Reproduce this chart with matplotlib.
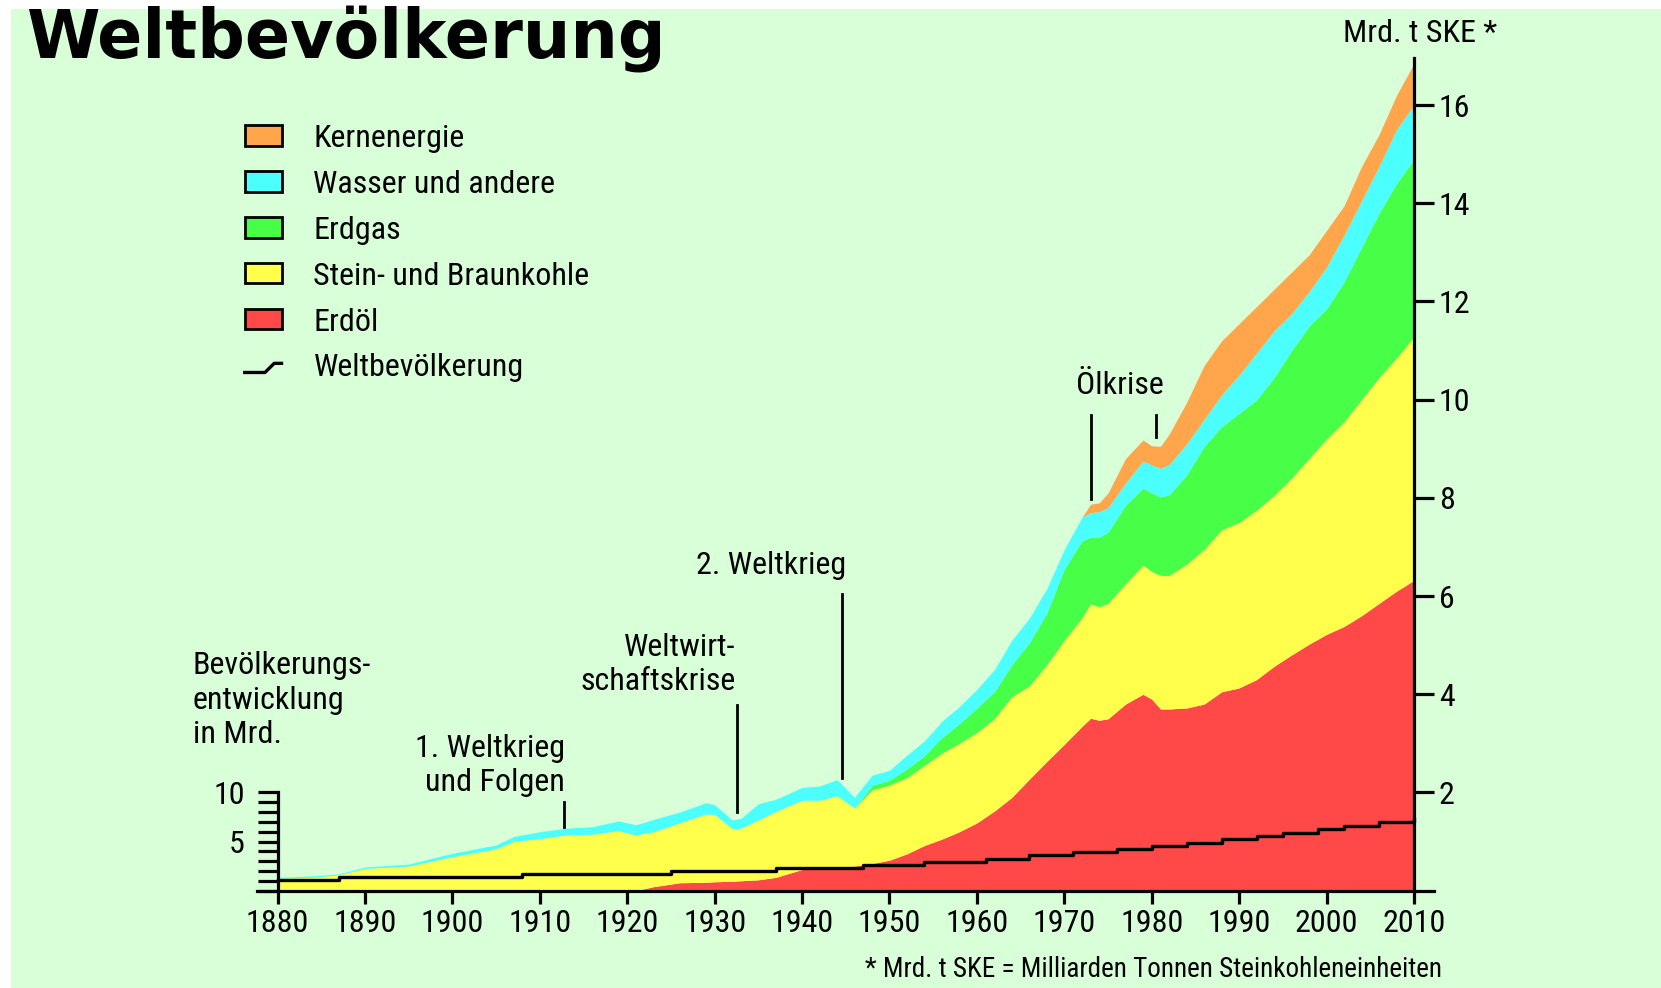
import numpy as np
import matplotlib
matplotlib.use('Agg')
import matplotlib.pyplot as plt
from matplotlib import font_manager
from matplotlib.patches import Patch, Rectangle
from matplotlib.lines import Line2D
from matplotlib.legend_handler import HandlerBase
from matplotlib.ticker import FixedLocator

# Jahre und kumulierte Obergrenzen der Schichten (Mrd. t SKE)
jahre = [1880, 1884, 1887, 1890, 1895, 1900, 1905, 1907, 1910, 1913, 1916, 1919,
         1921, 1923, 1926, 1929, 1930, 1932, 1933, 1935, 1937, 1940, 1942, 1944,
         1946, 1948, 1950, 1952, 1954, 1956, 1958, 1960, 1962, 1964, 1966, 1968,
         1970, 1972, 1973, 1974, 1975, 1977, 1979, 1980, 1981, 1982, 1984, 1986,
         1988, 1990, 1992, 1994, 1996, 1998, 2000, 2002, 2004, 2006, 2008, 2010]

oel_top = [0, 0, 0, 0, 0, 0, 0, 0, 0, 0, 0, 0,
           0, 0.08, 0.16, 0.17, 0.18, 0.19, 0.2, 0.22, 0.27, 0.43, 0.45, 0.47,
           0.5, 0.55, 0.62, 0.75, 0.92, 1.05, 1.2, 1.38, 1.62, 1.9, 2.27, 2.63,
           2.98, 3.34, 3.51, 3.47, 3.5, 3.8, 4.0, 3.9, 3.7, 3.7, 3.72, 3.8,
           4.05, 4.13, 4.3, 4.57, 4.8, 5.02, 5.22, 5.38, 5.6, 5.85, 6.1, 6.32]

kohle_top = [0.25, 0.27, 0.32, 0.45, 0.5, 0.69, 0.85, 1.0, 1.06, 1.13, 1.15, 1.22,
             1.13, 1.2, 1.38, 1.56, 1.55, 1.26, 1.27, 1.44, 1.61, 1.84, 1.84, 1.93,
             1.68, 2.05, 2.15, 2.3, 2.55, 2.8, 3.0, 3.22, 3.5, 3.95, 4.17, 4.6,
             5.1, 5.55, 5.84, 5.78, 5.85, 6.25, 6.63, 6.5, 6.42, 6.42, 6.65, 6.95,
             7.35, 7.5, 7.75, 8.05, 8.4, 8.8, 9.2, 9.55, 10.0, 10.45, 10.85, 11.28]

gas_top = [0.25, 0.27, 0.32, 0.45, 0.5, 0.69, 0.85, 1.0, 1.06, 1.13, 1.15, 1.22,
           1.13, 1.2, 1.38, 1.56, 1.55, 1.26, 1.27, 1.44, 1.61, 1.84, 1.84, 1.93,
           1.68, 2.14, 2.25, 2.48, 2.75, 3.12, 3.4, 3.72, 4.05, 4.6, 5.05, 5.65,
           6.55, 7.12, 7.2, 7.2, 7.3, 7.85, 8.2, 8.1, 8.02, 8.06, 8.47, 9.05,
           9.45, 9.72, 10.0, 10.45, 11.0, 11.5, 11.85, 12.4, 13.1, 13.8, 14.4, 14.9]

wasser_top = [0.27, 0.3, 0.34, 0.48, 0.54, 0.76, 0.93, 1.1, 1.2, 1.27, 1.3, 1.42,
              1.34, 1.45, 1.6, 1.79, 1.75, 1.44, 1.47, 1.77, 1.86, 2.1, 2.13, 2.26,
              1.9, 2.35, 2.45, 2.76, 3.05, 3.45, 3.75, 4.1, 4.5, 5.1, 5.55, 6.15,
              6.95, 7.6, 7.7, 7.72, 7.8, 8.3, 8.75, 8.67, 8.6, 8.68, 9.1, 9.6,
              10.1, 10.5, 10.95, 11.4, 11.75, 12.2, 12.7, 13.35, 14.05, 14.75, 15.5, 16.0]

kern_top = [0.27, 0.3, 0.34, 0.48, 0.54, 0.76, 0.93, 1.1, 1.2, 1.27, 1.3, 1.42,
            1.34, 1.45, 1.6, 1.79, 1.75, 1.44, 1.47, 1.77, 1.86, 2.1, 2.13, 2.26,
            1.9, 2.35, 2.45, 2.76, 3.05, 3.45, 3.75, 4.1, 4.5, 5.1, 5.55, 6.15,
            6.95, 7.6, 7.87, 7.9, 8.1, 8.8, 9.18, 9.06, 9.05, 9.3, 9.95, 10.7,
            11.2, 11.55, 11.9, 12.25, 12.6, 12.95, 13.45, 13.95, 14.75, 15.4, 16.2, 16.85]

# Weltbevoelkerung in Mrd. (Treppenlinie)
pop_jahre = [1880, 1887, 1908, 1925, 1937, 1947, 1954, 1961, 1966, 1971, 1976,
             1980, 1984, 1988, 1992, 1995, 1999, 2002, 2006, 2010]
pop_mrd = [1.07, 1.41, 1.68, 2.01, 2.3, 2.61, 2.94, 3.22, 3.62, 3.96, 4.2,
           4.58, 4.89, 5.22, 5.56, 5.84, 6.24, 6.58, 6.95, 7.3]

labels = ['Kernenergie', 'Wasser und andere', 'Erdgas', 'Stein- und Braunkohle', 'Erdöl']
farben = ['#ffa64c', '#4cffff', '#48ff48', '#ffff4c', '#ff4848']
bg = '#d9ffd9'

# schmale Schrift suchen
names = {f.name for f in font_manager.fontManager.ttflist}
if 'Liberation Sans Narrow' in names:
    fam, fs = 'Liberation Sans Narrow', 24
elif 'Roboto Condensed' in names:
    fam, fs = 'Roboto Condensed', 23
else:
    fam, fs = 'Liberation Sans', 20
plt.rcParams['font.family'] = [fam, 'DejaVu Sans']


class TreppenHandler(HandlerBase):
    # kleine Treppe als Legendensymbol fuer die Bevoelkerung
    def create_artists(self, legend, orig, xd, yd, w, h, fontsize, trans):
        xs = [xd, xd + 0.55 * w, xd + 0.8 * w, xd + w]
        ys = [yd + 0.25 * h, yd + 0.25 * h, yd + 0.7 * h, yd + 0.7 * h]
        ln = Line2D(xs, ys, color='black', lw=2.4, transform=trans)
        return [ln]


W, H = 1661, 988
fig = plt.figure(figsize=(W / 100, H / 100), dpi=100, facecolor='white')
fig.patches.append(Rectangle((11 / W, 0), 1 - 11 / W, 1 - 9 / H, transform=fig.transFigure,
                             facecolor=bg, edgecolor='none', zorder=-10))

ax = fig.add_axes([257 / W, (H - 890.6) / H, (1434 - 257) / W, (890.6 - 58) / H])
ax.set_facecolor('none')
ax.set_xlim(1877.65, 2012.29)
ax.set_ylim(0, 16.96)

x = np.array(jahre)
schichten = [np.zeros(len(x)), oel_top, kohle_top, gas_top, wasser_top, kern_top]
for i, farbe in enumerate(farben[::-1]):
    ax.fill_between(x, schichten[i], schichten[i + 1], color=farbe, lw=0)

# Bevoelkerungsachse links (twinx setzt die Ticks von ax nach links, daher danach rechts)
ax2 = ax.twinx()
ax2.set_ylim(0, 16.96 * 5)

for s in ['left', 'top']:
    ax.spines[s].set_visible(False)
ax.spines['right'].set_visible(True)
ax.spines['right'].set_position(('data', 2010))
ax.spines['right'].set_linewidth(2.3)
ax.spines['bottom'].set_linewidth(2.3)
ax.yaxis.tick_right()
ax.set_yticks(range(2, 17, 2))
ax.set_xticks(range(1880, 2011, 10))
ax.tick_params(axis='y', length=14.4, width=2.3, pad=3.5, labelsize=fs)
ax.tick_params(axis='x', length=9.5, width=2.3, pad=3.5, labelsize=fs)

for s in ['right', 'top', 'bottom']:
    ax2.spines[s].set_visible(False)
ax2.spines['left'].set_visible(True)
ax2.spines['left'].set_position(('data', 1880))
ax2.spines['left'].set_bounds(0, 10)
ax2.spines['left'].set_linewidth(2.3)
ax2.yaxis.tick_left()
ax2.yaxis.set_major_locator(FixedLocator([5, 10]))
ax2.yaxis.set_minor_locator(FixedLocator(range(0, 11)))
ax2.tick_params(axis='y', which='both', length=14.4, width=2.3, pad=9, labelsize=fs)
ax2.step(pop_jahre, pop_mrd, where='post', color='black', lw=2.4)

# Ereignisse
ax.plot([1912.8, 1912.8], [1.30, 1.80], color='black', lw=2)
ax.text(1912.9, 2.55, '1. Weltkrieg\nund Folgen', ha='right', va='center', fontsize=fs, linespacing=1.2)
ax.plot([1932.6, 1932.6], [1.61, 3.78], color='black', lw=2)
ax.text(1932.4, 4.61, 'Weltwirt-\nschaftskrise', ha='right', va='center', fontsize=fs, linespacing=1.22)
ax.plot([1944.6, 1944.6], [2.29, 6.04], color='black', lw=2)
ax.text(1936.5, 6.63, '2. Weltkrieg', ha='center', va='center', fontsize=fs)
ax.plot([1973.1, 1973.1], [7.98, 9.69], color='black', lw=2)
ax.plot([1980.5, 1980.5], [9.24, 9.69], color='black', lw=2)
ax.text(1976.3, 10.28, 'Ölkrise', ha='center', va='center', fontsize=fs)

fig.text(192.8 / W, 1 - 700 / H, 'Bevölkerungs-\nentwicklung\nin Mrd.', ha='left', va='center',
         fontsize=fs, linespacing=1.24)
fig.text(1343 / W, 1 - 34 / H, 'Mrd. t SKE *', ha='left', va='center', fontsize=fs)
fig.text(1442 / W, 1 - 969 / H, '* Mrd. t SKE = Milliarden Tonnen Steinkohleneinheiten',
         ha='right', va='center', fontsize=fs * 0.85)
fig.text(26 / W, 1 - 58 / H, 'Weltbevölkerung', ha='left', va='baseline', fontsize=48,
         fontweight='bold', family='DejaVu Sans')

handles = [Patch(facecolor=f, edgecolor='black', lw=2) for f in farben]
pop_handle = Line2D([0], [0], color='black', lw=2.4)
handles.append(pop_handle)
leg = ax.legend(handles, labels + ['Weltbevölkerung'], loc='upper left',
                bbox_to_anchor=(232 / W, 1 - 111 / H), bbox_transform=fig.transFigure,
                frameon=False, fontsize=fs, handlelength=1.15, handleheight=0.6,
                handletextpad=1.0, labelspacing=0.53, borderaxespad=0,
                handler_map={pop_handle: TreppenHandler()})

fig.savefig('out.png', dpi=100, facecolor='white')
